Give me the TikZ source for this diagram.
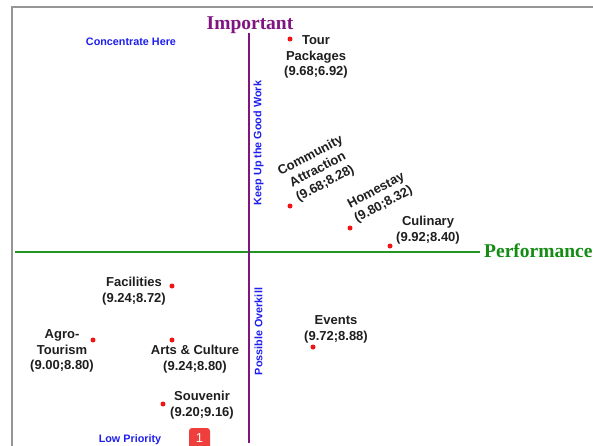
\documentclass[tikz,border=0pt]{standalone}
\usepackage{fontspec}
\setmainfont{Liberation Sans}
\newfontfamily\titlefont{Liberation Serif}
\definecolor{axispurple}{RGB}{128,20,128}
\definecolor{axisgreen}{RGB}{34,150,34}
\definecolor{titlegreen}{RGB}{20,140,20}
\definecolor{noteblue}{RGB}{30,30,240}
\definecolor{dotred}{RGB}{240,20,20}
\definecolor{badgered}{RGB}{238,62,62}
\definecolor{labelblack}{RGB}{30,30,30}
\definecolor{framegray}{RGB}{150,150,150}
\begin{document}
\begin{tikzpicture}[x=1pt,y=1pt,
  dot/.style={circle, fill=dotred, inner sep=0pt, minimum size=5pt},
  lbl/.style={font=\bfseries\fontsize{13}{15.8}\selectfont, align=center, text=labelblack, inner sep=0pt},
  note/.style={font=\bfseries\fontsize{10.8}{12}\selectfont, text=noteblue, inner sep=0pt},
  axistitle/.style={font=\titlefont\bfseries\fontsize{19.5}{22}\selectfont, inner sep=0pt},
  frameline/.style={draw=framegray, line width=2pt},
  axisline/.style={line width=2pt}]
\useasboundingbox (0,0) rectangle (593,-445);
% frame
\coordinate (ftl) at (12,-7);
\coordinate (ftr) at (594,-7);
\coordinate (fbl) at (12,-446);
\draw[frameline] (ftr) -- (ftl) -- (fbl);
% axes
\coordinate (gl) at (15,-251.5);
\coordinate (gr) at (480,-251.5);
\draw[axisline, draw=axisgreen] (gl) -- (gr);
\coordinate (pt) at (249,-33);
\coordinate (pb) at (249,-443);
\draw[axisline, draw=axispurple] (pt) -- (pb);
% axis titles
\node[axistitle, text=axispurple, anchor=base] (imp) at (250,-29) {Important};
\node[axistitle, text=titlegreen, anchor=base west] (perf) at (484,-257) {Performance};
% quadrant notes
\node[note, anchor=base] (conc) at (131,-45) {Concentrate Here};
\node[note, anchor=base] (lowp) at (130,-442) {Low Priority};
\node[note, rotate=90] (keep) at (258.5,-143) {Keep Up the Good Work};
\node[note, rotate=90] (over) at (258.5,-331.5) {Possible Overkill};
% points
\node[dot] (tour) at (290,-39) {};
\node[dot] (comm) at (290,-206) {};
\node[dot] (home) at (350,-228) {};
\node[dot] (culi) at (390,-246) {};
\node[dot] (faci) at (172,-286) {};
\node[dot] (agro) at (93,-340) {};
\node[dot] (arts) at (172,-340) {};
\node[dot] (souv) at (163,-404) {};
\node[dot] (even) at (313,-347) {};
% labels
\node[lbl] (tourl) at (316,-57) {Tour\\Packages\\(9.68;6.92)};
\node[lbl, rotate=28] (comml) at (318,-170) {Community\\Attraction\\(9.68;8.28)};
\node[lbl, rotate=28] (homel) at (380,-198) {Homestay\\(9.80;8.32)};
\node[lbl] (culil) at (428,-230) {Culinary\\(9.92;8.40)};
\node[lbl] (facil) at (134,-291) {Facilities\\(9.24;8.72)};
\node[lbl] (agrol) at (62,-351) {Agro-\\Tourism\\(9.00;8.80)};
\node[lbl] (artsl) at (195,-359) {Arts \& Culture\\(9.24;8.80)};
\node[lbl] (souvl) at (202,-405) {Souvenir\\(9.20;9.16)};
\node[lbl] (evenl) at (336,-329) {Events\\(9.72;8.88)};
% badge
\node[fill=badgered, rounded corners=3pt, minimum width=21pt, minimum height=21pt, inner sep=0pt,
  text=white, font=\fontsize{13}{14}\selectfont] (badge) at (199.5,-438.5) {1};
\end{tikzpicture}
\end{document}
